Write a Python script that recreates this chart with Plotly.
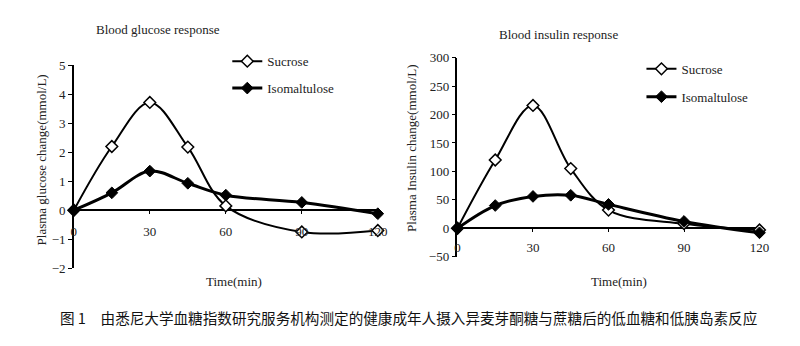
import plotly.graph_objects as go

W, H = 800, 346

time_min = [0, 15, 30, 45, 60, 90, 120]
glucose_sucrose = [0, 2.2, 3.72, 2.18, 0.15, -0.75, -0.7]
glucose_isomaltulose = [0, 0.6, 1.35, 0.93, 0.52, 0.27, -0.12]
insulin_sucrose = [0, 120, 216, 105, 32, 8, -3]
insulin_isomaltulose = [0, 40, 56, 58, 42, 12, -8]

x_ticks = [0, 30, 60, 90, 120]
glucose_ticks = [-2, -1, 0, 1, 2, 3, 4, 5]
insulin_ticks = [-50, 0, 50, 100, 150, 200, 250, 300]

SERIF = "Liberation Serif, Times New Roman, serif"
CJK = "Noto Sans CJK SC"


def px(x):
    return x / W


def py(y):
    return 1 - y / H


fig = go.Figure()

common_sucrose = dict(mode="lines+markers", line=dict(color="black", width=2, shape="spline", smoothing=1),
                      marker=dict(symbol="diamond", size=9, color="white", line=dict(color="black", width=1.5)),
                      cliponaxis=False)
common_iso = dict(mode="lines+markers", line=dict(color="black", width=3, shape="spline", smoothing=1),
                  marker=dict(symbol="diamond", size=9, color="black", line=dict(color="black", width=1)),
                  cliponaxis=False)

fig.add_trace(go.Scatter(x=time_min, y=glucose_sucrose, name="Sucrose", xaxis="x", yaxis="y",
                         legend="legend", legendgroup="a", **common_sucrose))
fig.add_trace(go.Scatter(x=time_min, y=glucose_isomaltulose, name="Isomaltulose", xaxis="x", yaxis="y",
                         legend="legend", legendgroup="b", **common_iso))
fig.add_trace(go.Scatter(x=time_min, y=insulin_sucrose, name="Sucrose", xaxis="x2", yaxis="y2",
                         legend="legend2", legendgroup="c", **common_sucrose))
fig.add_trace(go.Scatter(x=time_min, y=insulin_isomaltulose, name="Isomaltulose", xaxis="x2", yaxis="y2",
                         legend="legend2", legendgroup="d", **common_iso))

tickfont = dict(family=SERIF, size=13, color="#222")

# left panel geometry
L_x0, L_x1 = 72, 381
L_ytop, L_ybot = 61, 273  # 5 and -2
L_zero = 212
# right panel geometry
R_x0, R_x1 = 462, 769
R_ytop, R_ybot = 53, 261  # 300 and -50
R_zero = 231

xcommon = dict(range=[0, 120], tickvals=x_ticks, showline=False, ticks="outside", ticklen=3,
               tickcolor="black", showgrid=False, zeroline=False, tickfont=tickfont, anchor="free")
ycommon = dict(showline=True, linecolor="black", linewidth=1.5, ticks="outside", ticklen=4,
               tickcolor="black", showgrid=False, zeroline=True, zerolinecolor="black",
               zerolinewidth=1.5, tickfont=tickfont)

fig.update_layout(
    width=W, height=H,
    margin=dict(l=0, r=0, t=0, b=0),
    paper_bgcolor="white", plot_bgcolor="white",
    xaxis=dict(domain=[px(L_x0), px(L_x1)], position=py(L_zero), ticklabelstandoff=7, **xcommon),
    yaxis=dict(domain=[py(L_ybot), py(L_ytop)], range=[-2, 5], tickvals=glucose_ticks,
               ticktext=["\u22122", "\u22121", "0", "1", "2", "3", "4", "5"], anchor="x", **ycommon),
    xaxis2=dict(domain=[px(R_x0), px(R_x1)], position=py(R_zero), ticklabelstandoff=4, **xcommon),
    yaxis2=dict(domain=[py(R_ybot), py(R_ytop)], range=[-50, 300], tickvals=insulin_ticks,
                ticktext=["\u221250", "0", "50", "100", "150", "200", "250", "300"], anchor="x2", **ycommon),
    legend=dict(x=px(228), y=py(41), xanchor="left", yanchor="top", bgcolor="rgba(0,0,0,0)",
                font=dict(family=SERIF, size=13, color="#222"), tracegroupgap=7, itemwidth=30),
    legend2=dict(x=px(649), y=py(49), xanchor="left", yanchor="top", bgcolor="rgba(0,0,0,0)",
                 font=dict(family=SERIF, size=13, color="#222"), tracegroupgap=8, itemwidth=30),
)

txt = dict(family=SERIF, size=13, color="#222")
base = dict(xref="paper", yref="paper", showarrow=False, xanchor="center", yanchor="middle")
ann = [
    dict(text="Blood glucose response", x=px(158), y=py(23), font=txt, **base),
    dict(text="Blood insulin response", x=px(565), y=py(29), font=txt, **base),
    dict(text="Plasma glucose change(mmol/L)", x=px(39), y=py(160), textangle=-90, font=txt, **base),
    dict(text="Plasma Insulin change(mmol/L)", x=px(415), y=py(147), textangle=-90, font=txt, **base),
    dict(text="Time(min)", x=px(235), y=py(287), font=txt, **base),
    dict(text="Time(min)", x=px(626), y=py(287), font=txt, **base),
    dict(text="图 1\u3000由悉尼大学血糖指数研究服务机构测定的健康成年人摄入异麦芽酮糖与蔗糖后的低血糖和低胰岛素反应",
         x=px(56), y=py(325), xref="paper", yref="paper", xanchor="left", yanchor="middle",
         showarrow=False, font=dict(family=CJK, size=14.6, color="#111")),
]
fig.update_layout(annotations=ann)

fig.write_html("out.html")
